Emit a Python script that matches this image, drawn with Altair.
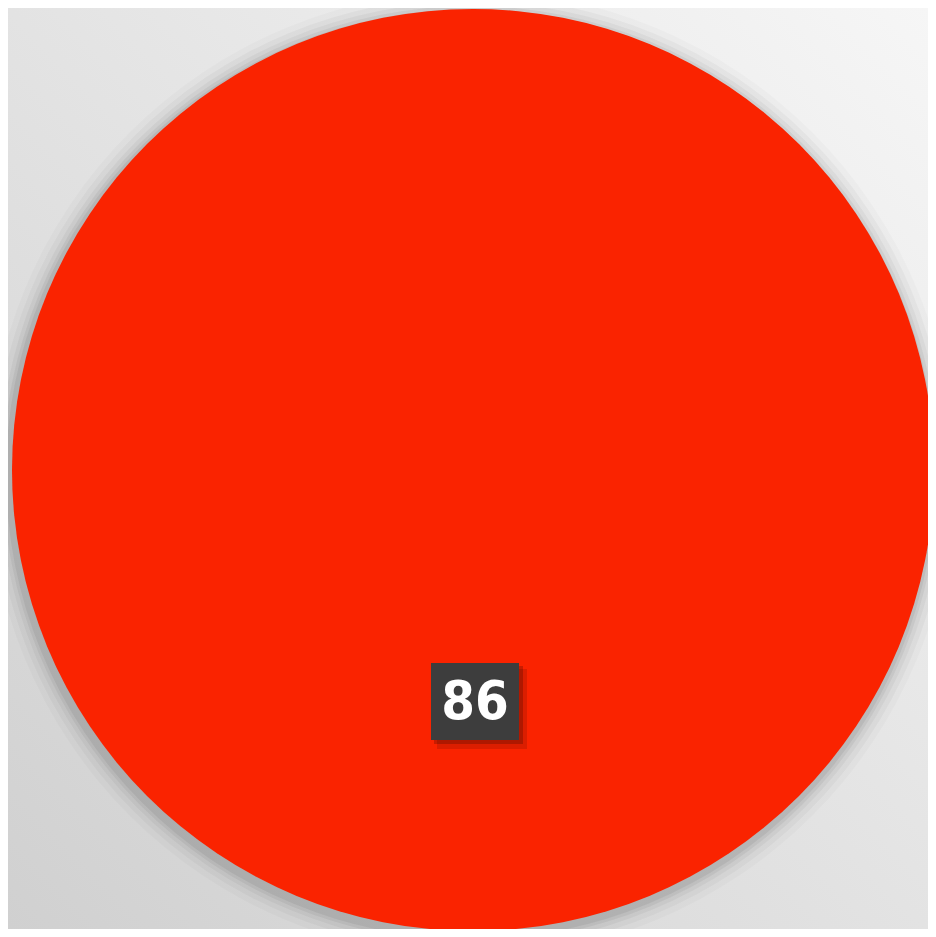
import altair as alt
import pandas as pd

# data
categories = ["A"]
values = [86]
labels = ["86"]

W, H = 920, 921
CX, CY, R = 465, 462, 461

df = pd.DataFrame({"category": categories, "value": values, "label": labels})

bg = alt.Chart(df).mark_rect(
    color=alt.Gradient(
        gradient="linear",
        stops=[alt.GradientStop(color="#f6f6f6", offset=0),
               alt.GradientStop(color="#d0d0d0", offset=1)],
        x1=1, y1=0, x2=0, y2=1,
    )
).encode(x=alt.value(0), x2=alt.value(W), y=alt.value(0), y2=alt.value(H))

shadows = []
for dr, op in [(22, 0.02), (16, 0.03), (11, 0.04), (7, 0.05), (4, 0.06)]:
    shadows.append(
        alt.Chart(df).mark_arc(outerRadius=R + dr, color="#000000", opacity=op).encode(
            theta=alt.Theta("value:Q", stack=True),
            x=alt.value(CX - 2), y=alt.value(CY + 4),
        )
    )

pie = alt.Chart(df).mark_arc(outerRadius=R, color="#fa2300").encode(
    theta=alt.Theta("value:Q", stack=True),
    x=alt.value(CX), y=alt.value(CY),
)

box_shadow2 = alt.Chart(df).mark_rect(color="#000000", opacity=0.12).encode(
    x=alt.value(429), x2=alt.value(519), y=alt.value(661), y2=alt.value(741)
)
box_shadow = alt.Chart(df).mark_rect(color="#000000", opacity=0.2).encode(
    x=alt.value(426), x2=alt.value(515), y=alt.value(658), y2=alt.value(736)
)
box = alt.Chart(df).mark_rect(color="#3d3d3d").encode(
    x=alt.value(423), x2=alt.value(511), y=alt.value(655), y2=alt.value(732)
)
text = alt.Chart(df).mark_text(
    font="Liberation Sans Narrow, DejaVu Sans Condensed, Liberation Sans",
    fontSize=54, fontWeight="bold", color="#ffffff",
    align="center", baseline="middle",
).encode(text="label:N", x=alt.value(467), y=alt.value(695))

chart = alt.layer(bg, *shadows, pie, box_shadow2, box_shadow, box, text).properties(
    width=W, height=H, padding=0,
    autosize=alt.AutoSizeParams(type="none"),
).configure_view(stroke=None)

chart.save("out.html", embed_options={"renderer": "svg", "actions": False})
